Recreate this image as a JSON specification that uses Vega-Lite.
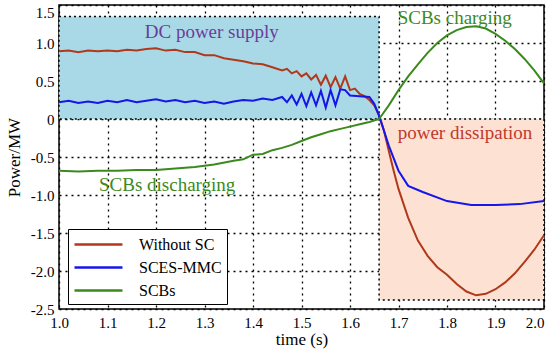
{
  "$schema": "https://vega.github.io/schema/vega-lite/v6.json",
  "width": 485,
  "height": 304,
  "autosize": {"type": "none"},
  "padding": {"left": 59, "top": 5, "right": 6, "bottom": 41},
  "background": "white",
  "config": {
    "view": {"stroke": "black", "strokeWidth": 1.5},
    "font": "Liberation Serif",
    "axis": {
      "grid": true, "gridColor": "black", "gridDash": [2, 4], "gridWidth": 1.3, "gridOpacity": 1,
      "ticks": false, "domain": false, "zindex": 1, "labelOverlap": false,
      "labelFont": "Liberation Serif", "labelFontSize": 15, "labelColor": "black",
      "titleFont": "Liberation Serif", "titleFontSize": 17, "titleFontWeight": "normal", "titleColor": "black"
    }
  },
  "layer": [
    {
      "data": {"values": [
        {"t0": 1.0, "t1": 1.66, "p0": 0, "p1": 1.35, "region": "supply"},
        {"t0": 1.66, "t1": 2.0, "p0": -2.38, "p1": 0, "region": "dissipation"}
      ]},
      "mark": {"type": "rect", "stroke": "black", "strokeWidth": 1.5, "strokeDash": [2, 3]},
      "encoding": {
        "x": {"field": "t0", "type": "quantitative", "scale": {"domain": [1.0, 2.0], "nice": false, "zero": false},
              "axis": {"values": [1.0, 1.1, 1.2, 1.3, 1.4, 1.5, 1.6, 1.7, 1.8, 1.9, 2.0], "tickCount": 20, "format": ".1f", "title": "time (s)", "labelPadding": 6, "titlePadding": 1, "labelOverlap": false,
                       "labelAlign": {"condition": {"test": "datum.value >= 2", "value": "right"}, "value": "center"}}},
        "x2": {"field": "t1"},
        "y": {"field": "p0", "type": "quantitative", "scale": {"domain": [-2.5, 1.5], "nice": false, "zero": false},
              "axis": {"values": [-2.5, -2, -1.5, -1, -0.5, 0, 0.5, 1, 1.5], "tickCount": 20, "title": "Power/MW", "labelPadding": 5, "titlePadding": 7, "labelOverlap": false,
                       "labelBaseline": {"condition": {"test": "datum.value >= 1.5", "value": "top"}, "value": "middle"},
                       "labelExpr": "datum.value == 0 ? '0' : replace(format(datum.value, '.1f'), '\u2212', '-')"}},
        "y2": {"field": "p1"},
        "fill": {"field": "region", "type": "nominal", "scale": {"domain": ["supply", "dissipation"], "range": ["#a9d9e6", "#fde1d3"]}, "legend": null}
      }
    },
    {
      "data": {"values": [
        {"t": 1.00, "s": "Without SC", "p": 0.89}, {"t": 1.02, "s": "Without SC", "p": 0.90}, {"t": 1.04, "s": "Without SC", "p": 0.88},
        {"t": 1.06, "s": "Without SC", "p": 0.90}, {"t": 1.08, "s": "Without SC", "p": 0.89}, {"t": 1.10, "s": "Without SC", "p": 0.90},
        {"t": 1.12, "s": "Without SC", "p": 0.89}, {"t": 1.14, "s": "Without SC", "p": 0.91}, {"t": 1.16, "s": "Without SC", "p": 0.90},
        {"t": 1.18, "s": "Without SC", "p": 0.92}, {"t": 1.20, "s": "Without SC", "p": 0.93}, {"t": 1.22, "s": "Without SC", "p": 0.90},
        {"t": 1.24, "s": "Without SC", "p": 0.91}, {"t": 1.26, "s": "Without SC", "p": 0.88}, {"t": 1.28, "s": "Without SC", "p": 0.88},
        {"t": 1.30, "s": "Without SC", "p": 0.84}, {"t": 1.32, "s": "Without SC", "p": 0.84}, {"t": 1.34, "s": "Without SC", "p": 0.80},
        {"t": 1.36, "s": "Without SC", "p": 0.78}, {"t": 1.38, "s": "Without SC", "p": 0.76}, {"t": 1.40, "s": "Without SC", "p": 0.73},
        {"t": 1.42, "s": "Without SC", "p": 0.72}, {"t": 1.44, "s": "Without SC", "p": 0.68}, {"t": 1.46, "s": "Without SC", "p": 0.64},
        {"t": 1.47, "s": "Without SC", "p": 0.66}, {"t": 1.48, "s": "Without SC", "p": 0.60}, {"t": 1.49, "s": "Without SC", "p": 0.63},
        {"t": 1.50, "s": "Without SC", "p": 0.56}, {"t": 1.51, "s": "Without SC", "p": 0.60}, {"t": 1.52, "s": "Without SC", "p": 0.52},
        {"t": 1.53, "s": "Without SC", "p": 0.58}, {"t": 1.54, "s": "Without SC", "p": 0.45}, {"t": 1.55, "s": "Without SC", "p": 0.57},
        {"t": 1.56, "s": "Without SC", "p": 0.42}, {"t": 1.57, "s": "Without SC", "p": 0.55}, {"t": 1.58, "s": "Without SC", "p": 0.40},
        {"t": 1.59, "s": "Without SC", "p": 0.56}, {"t": 1.60, "s": "Without SC", "p": 0.38}, {"t": 1.61, "s": "Without SC", "p": 0.40},
        {"t": 1.62, "s": "Without SC", "p": 0.33}, {"t": 1.63, "s": "Without SC", "p": 0.30}, {"t": 1.64, "s": "Without SC", "p": 0.25},
        {"t": 1.65, "s": "Without SC", "p": 0.18}, {"t": 1.66, "s": "Without SC", "p": 0.05}, {"t": 1.67, "s": "Without SC", "p": -0.15},
        {"t": 1.68, "s": "Without SC", "p": -0.42}, {"t": 1.69, "s": "Without SC", "p": -0.68}, {"t": 1.70, "s": "Without SC", "p": -0.92},
        {"t": 1.72, "s": "Without SC", "p": -1.30}, {"t": 1.74, "s": "Without SC", "p": -1.60}, {"t": 1.76, "s": "Without SC", "p": -1.80},
        {"t": 1.78, "s": "Without SC", "p": -1.95}, {"t": 1.80, "s": "Without SC", "p": -2.05}, {"t": 1.82, "s": "Without SC", "p": -2.17},
        {"t": 1.84, "s": "Without SC", "p": -2.27}, {"t": 1.86, "s": "Without SC", "p": -2.32}, {"t": 1.88, "s": "Without SC", "p": -2.30},
        {"t": 1.90, "s": "Without SC", "p": -2.24}, {"t": 1.92, "s": "Without SC", "p": -2.15}, {"t": 1.94, "s": "Without SC", "p": -2.03},
        {"t": 1.96, "s": "Without SC", "p": -1.88}, {"t": 1.98, "s": "Without SC", "p": -1.72}, {"t": 2.00, "s": "Without SC", "p": -1.53},

        {"t": 1.00, "s": "SCES-MMC", "p": 0.22}, {"t": 1.02, "s": "SCES-MMC", "p": 0.24}, {"t": 1.04, "s": "SCES-MMC", "p": 0.21},
        {"t": 1.06, "s": "SCES-MMC", "p": 0.23}, {"t": 1.08, "s": "SCES-MMC", "p": 0.21}, {"t": 1.10, "s": "SCES-MMC", "p": 0.24},
        {"t": 1.12, "s": "SCES-MMC", "p": 0.22}, {"t": 1.14, "s": "SCES-MMC", "p": 0.25}, {"t": 1.16, "s": "SCES-MMC", "p": 0.22},
        {"t": 1.18, "s": "SCES-MMC", "p": 0.24}, {"t": 1.20, "s": "SCES-MMC", "p": 0.26}, {"t": 1.22, "s": "SCES-MMC", "p": 0.23},
        {"t": 1.24, "s": "SCES-MMC", "p": 0.25}, {"t": 1.26, "s": "SCES-MMC", "p": 0.22}, {"t": 1.28, "s": "SCES-MMC", "p": 0.24},
        {"t": 1.30, "s": "SCES-MMC", "p": 0.21}, {"t": 1.32, "s": "SCES-MMC", "p": 0.23}, {"t": 1.34, "s": "SCES-MMC", "p": 0.20},
        {"t": 1.36, "s": "SCES-MMC", "p": 0.23}, {"t": 1.38, "s": "SCES-MMC", "p": 0.25}, {"t": 1.40, "s": "SCES-MMC", "p": 0.24},
        {"t": 1.42, "s": "SCES-MMC", "p": 0.27}, {"t": 1.44, "s": "SCES-MMC", "p": 0.25}, {"t": 1.46, "s": "SCES-MMC", "p": 0.29},
        {"t": 1.47, "s": "SCES-MMC", "p": 0.22}, {"t": 1.48, "s": "SCES-MMC", "p": 0.31}, {"t": 1.49, "s": "SCES-MMC", "p": 0.19},
        {"t": 1.50, "s": "SCES-MMC", "p": 0.33}, {"t": 1.51, "s": "SCES-MMC", "p": 0.17}, {"t": 1.52, "s": "SCES-MMC", "p": 0.35},
        {"t": 1.53, "s": "SCES-MMC", "p": 0.18}, {"t": 1.54, "s": "SCES-MMC", "p": 0.37}, {"t": 1.55, "s": "SCES-MMC", "p": 0.15},
        {"t": 1.56, "s": "SCES-MMC", "p": 0.38}, {"t": 1.57, "s": "SCES-MMC", "p": 0.18}, {"t": 1.58, "s": "SCES-MMC", "p": 0.39},
        {"t": 1.59, "s": "SCES-MMC", "p": 0.38}, {"t": 1.60, "s": "SCES-MMC", "p": 0.31}, {"t": 1.62, "s": "SCES-MMC", "p": 0.30},
        {"t": 1.64, "s": "SCES-MMC", "p": 0.29}, {"t": 1.65, "s": "SCES-MMC", "p": 0.20}, {"t": 1.66, "s": "SCES-MMC", "p": 0.04},
        {"t": 1.68, "s": "SCES-MMC", "p": -0.35}, {"t": 1.70, "s": "SCES-MMC", "p": -0.68}, {"t": 1.72, "s": "SCES-MMC", "p": -0.88},
        {"t": 1.75, "s": "SCES-MMC", "p": -0.96}, {"t": 1.80, "s": "SCES-MMC", "p": -1.08}, {"t": 1.85, "s": "SCES-MMC", "p": -1.13},
        {"t": 1.90, "s": "SCES-MMC", "p": -1.13}, {"t": 1.95, "s": "SCES-MMC", "p": -1.12}, {"t": 2.00, "s": "SCES-MMC", "p": -1.08},

        {"t": 1.00, "s": "SCBs", "p": -0.68}, {"t": 1.04, "s": "SCBs", "p": -0.69}, {"t": 1.08, "s": "SCBs", "p": -0.68},
        {"t": 1.12, "s": "SCBs", "p": -0.68}, {"t": 1.16, "s": "SCBs", "p": -0.67}, {"t": 1.20, "s": "SCBs", "p": -0.67},
        {"t": 1.24, "s": "SCBs", "p": -0.65}, {"t": 1.28, "s": "SCBs", "p": -0.63}, {"t": 1.32, "s": "SCBs", "p": -0.60},
        {"t": 1.36, "s": "SCBs", "p": -0.55}, {"t": 1.38, "s": "SCBs", "p": -0.53}, {"t": 1.40, "s": "SCBs", "p": -0.47},
        {"t": 1.42, "s": "SCBs", "p": -0.46}, {"t": 1.44, "s": "SCBs", "p": -0.41}, {"t": 1.46, "s": "SCBs", "p": -0.38},
        {"t": 1.48, "s": "SCBs", "p": -0.34}, {"t": 1.50, "s": "SCBs", "p": -0.29}, {"t": 1.52, "s": "SCBs", "p": -0.24},
        {"t": 1.54, "s": "SCBs", "p": -0.20}, {"t": 1.56, "s": "SCBs", "p": -0.16}, {"t": 1.58, "s": "SCBs", "p": -0.13},
        {"t": 1.60, "s": "SCBs", "p": -0.10}, {"t": 1.62, "s": "SCBs", "p": -0.07}, {"t": 1.64, "s": "SCBs", "p": -0.04},
        {"t": 1.66, "s": "SCBs", "p": 0.00}, {"t": 1.68, "s": "SCBs", "p": 0.18}, {"t": 1.70, "s": "SCBs", "p": 0.38},
        {"t": 1.72, "s": "SCBs", "p": 0.56}, {"t": 1.74, "s": "SCBs", "p": 0.72}, {"t": 1.76, "s": "SCBs", "p": 0.87},
        {"t": 1.78, "s": "SCBs", "p": 1.00}, {"t": 1.80, "s": "SCBs", "p": 1.10}, {"t": 1.82, "s": "SCBs", "p": 1.17},
        {"t": 1.84, "s": "SCBs", "p": 1.21}, {"t": 1.86, "s": "SCBs", "p": 1.22}, {"t": 1.88, "s": "SCBs", "p": 1.19},
        {"t": 1.90, "s": "SCBs", "p": 1.12}, {"t": 1.92, "s": "SCBs", "p": 1.03}, {"t": 1.94, "s": "SCBs", "p": 0.92},
        {"t": 1.96, "s": "SCBs", "p": 0.79}, {"t": 1.98, "s": "SCBs", "p": 0.64}, {"t": 2.00, "s": "SCBs", "p": 0.47}
      ]},
      "mark": {"type": "line", "strokeWidth": 2},
      "encoding": {
        "x": {"field": "t", "type": "quantitative"},
        "y": {"field": "p", "type": "quantitative"},
        "color": {"field": "s", "type": "nominal",
          "scale": {"domain": ["Without SC", "SCES-MMC", "SCBs"], "range": ["#b0391c", "#1616e8", "#3b8a1c"]},
          "legend": {"title": "\u2003\u2003\u2003\u2003", "titleOrient": "right", "titleFontSize": 16, "titlePadding": 0,
            "orient": "none", "legendX": 9, "legendY": 224,
            "symbolType": "M-1,0H4.33", "symbolSize": 324, "symbolStrokeWidth": 2.5,
            "labelFont": "Liberation Serif", "labelFontSize": 16, "labelColor": "black", "labelOffset": 45,
            "fillColor": "white", "strokeColor": "black", "padding": 5, "rowPadding": 4}}
      }
    },
    {
      "data": {"values": [
        {"t": 1.315, "p": 1.14, "label": "DC power supply", "kind": "a"},
        {"t": 1.816, "p": 1.33, "label": "SCBs charging", "kind": "b"},
        {"t": 1.837, "p": -0.18, "label": "power dissipation", "kind": "c"},
        {"t": 1.223, "p": -0.87, "label": "SCBs discharging", "kind": "b"}
      ]},
      "mark": {"type": "text", "font": "Liberation Serif", "fontSize": 19, "align": "center", "baseline": "middle"},
      "encoding": {
        "x": {"field": "t", "type": "quantitative"},
        "y": {"field": "p", "type": "quantitative"},
        "text": {"field": "label"},
        "color": {"field": "kind", "type": "nominal", "scale": {"domain": ["a", "b", "c"], "range": ["#6a3d9a", "#3b8a1c", "#c0392b"]}, "legend": null}
      }
    }
  ],
  "resolve": {"scale": {"color": "independent"}}
}
